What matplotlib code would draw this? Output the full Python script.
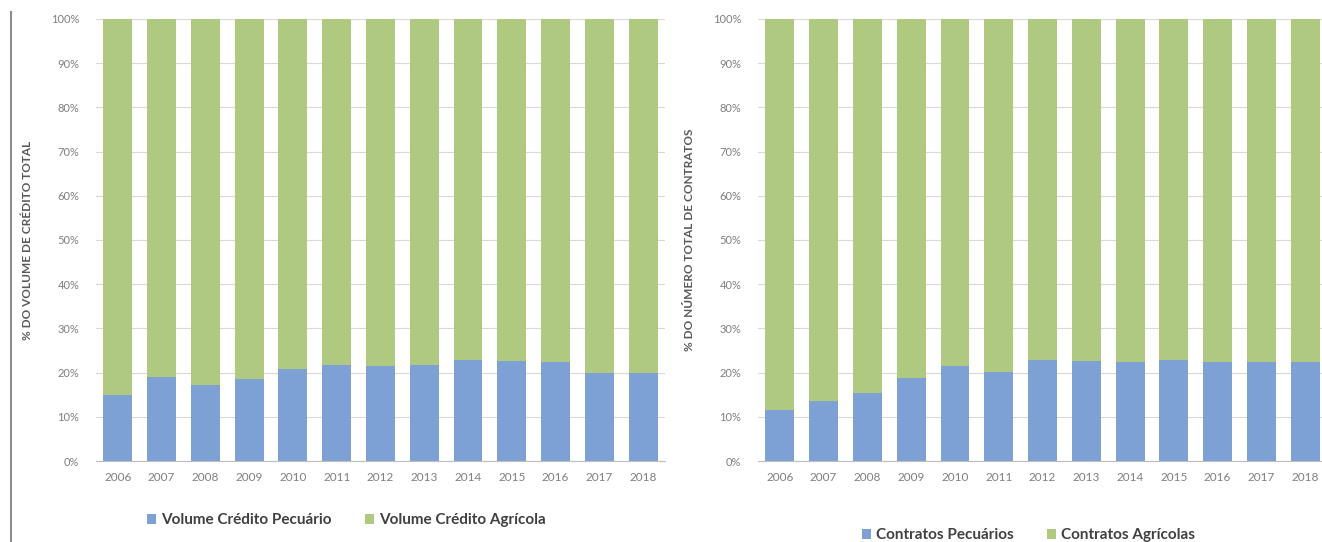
import matplotlib
matplotlib.use('Agg')
import matplotlib.pyplot as plt
import numpy as np
from matplotlib.lines import Line2D
from matplotlib.ticker import PercentFormatter

plt.rcParams['font.family'] = ['Lato', 'DejaVu Sans']

anos = ['2006', '2007', '2008', '2009', '2010', '2011', '2012',
        '2013', '2014', '2015', '2016', '2017', '2018']

# % do volume de credito
vol_pecuario = [14.9, 18.9, 17.1, 18.5, 20.9, 21.8, 21.6, 21.8, 22.9, 22.7, 22.5, 20.0, 19.9]
vol_agricola = [100 - v for v in vol_pecuario]

# % do numero de contratos
cont_pecuario = [11.5, 13.6, 15.4, 18.8, 21.5, 20.1, 22.9, 22.6, 22.5, 22.9, 22.3, 22.3, 22.3]
cont_agricola = [100 - v for v in cont_pecuario]

azul = '#7DA1D4'
verde = '#AFCA80'
cinza = '#7F7F7F'

fig = plt.figure(figsize=(13.22, 5.42), dpi=100)
ax1 = fig.add_axes([0.0726, 0.1494, 0.4304, 0.8156])
ax2 = fig.add_axes([0.5734, 0.1494, 0.4304, 0.8156])

x = np.arange(len(anos))


def painel(ax, baixo, cima, ylabel, nomes, pos_leg):
    b1 = ax.bar(x, baixo, width=0.66, color=azul, zorder=2)
    b2 = ax.bar(x, cima, width=0.66, bottom=baixo, color=verde, zorder=2)
    ax.set_xlim(-0.5, len(anos) - 0.5)
    ax.set_ylim(0, 100)
    ax.set_yticks(np.arange(0, 101, 10))
    ax.yaxis.set_major_formatter(PercentFormatter(decimals=0))
    ax.set_xticks(x)
    ax.set_xticklabels(anos)
    ax.grid(axis='y', color='#D9D9D9', linewidth=0.8, zorder=0)
    for s in ['top', 'right', 'left']:
        ax.spines[s].set_visible(False)
    ax.spines['bottom'].set_color('#BFBFBF')
    ax.tick_params(axis='both', length=0, colors=cinza)
    ax.tick_params(axis='y', pad=12, labelsize=8)
    ax.tick_params(axis='x', pad=8, labelsize=8.5)
    ax.set_ylabel(ylabel, fontsize=8.5, fontweight='bold', color='#595959')
    ax.yaxis.set_label_coords(-0.11, 0.5)
    fig.legend([b1, b2], nomes, loc='center', ncol=2, frameon=False,
               bbox_to_anchor=pos_leg,
               prop={'size': 11, 'weight': 'bold'}, labelcolor='#404040',
               handlelength=0.6, handleheight=0.6, handletextpad=0.3, columnspacing=2.2)


painel(ax1, vol_pecuario, vol_agricola, '% DO VOLUME DE CRÉDITO TOTAL',
       ['Volume Crédito Pecuário', 'Volume Crédito Agrícola'], (0.262, 0.04))
painel(ax2, cont_pecuario, cont_agricola, '% DO NÚMERO TOTAL DE CONTRATOS',
       ['Contratos Pecuários', 'Contratos Agrícolas'], (0.778, 0.012))

# linha vertical na margem esquerda
fig.add_artist(Line2D([0.008, 0.008], [0.0, 0.978], transform=fig.transFigure,
                      color='#8C8C8C', linewidth=1.5))

plt.savefig('out.png', dpi=100)
